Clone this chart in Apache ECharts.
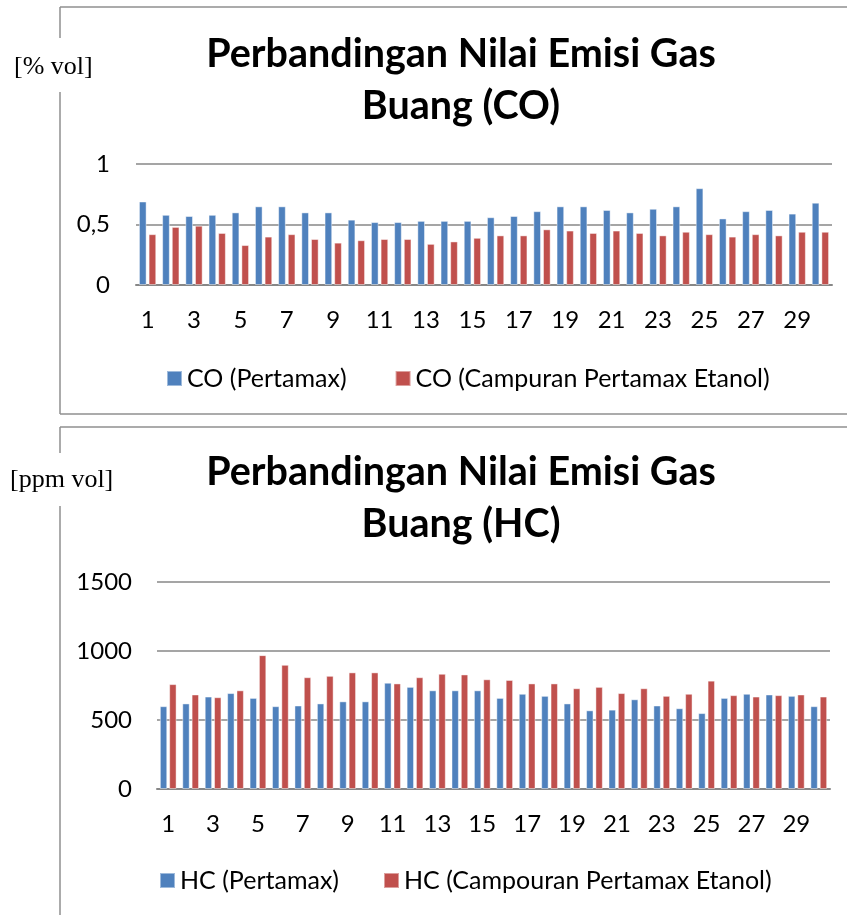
<!DOCTYPE html>
<html>
<head>
<meta charset="utf-8">
<script src="https://cdn.jsdelivr.net/npm/echarts@6/dist/echarts.min.js"></script>
<style>
  html, body { margin: 0; padding: 0; background: #fff; }
  #chart { width: 847px; height: 915px; }
</style>
</head>
<body>
<div id="chart"></div>
<script>
// sample number 1..30
const samples = Array.from({ length: 30 }, (_, i) => String(i + 1));

// CO [% vol]
const coPertamax = [0.69, 0.58, 0.57, 0.58, 0.60, 0.65, 0.65, 0.60, 0.60, 0.54,
  0.52, 0.52, 0.53, 0.53, 0.53, 0.56, 0.57, 0.61, 0.65, 0.65,
  0.62, 0.60, 0.63, 0.65, 0.80, 0.55, 0.61, 0.62, 0.59, 0.68];
const coCampuran = [0.42, 0.48, 0.49, 0.43, 0.33, 0.40, 0.42, 0.38, 0.35, 0.37,
  0.38, 0.38, 0.34, 0.36, 0.39, 0.41, 0.41, 0.46, 0.45, 0.43,
  0.45, 0.43, 0.41, 0.44, 0.42, 0.40, 0.42, 0.41, 0.44, 0.44];

// HC [ppm vol]
const hcPertamax = [600, 620, 670, 695, 660, 600, 605, 620, 635, 635,
  770, 740, 715, 715, 715, 660, 690, 675, 620, 570,
  575, 650, 605, 585, 550, 660, 690, 685, 675, 600];
const hcCampuran = [760, 685, 665, 715, 970, 900, 810, 820, 845, 845,
  765, 810, 835, 830, 795, 790, 765, 765, 730, 740,
  695, 730, 675, 690, 785, 680, 670, 680, 685, 670];

const BLUE = "#4F81BD";
const RED = "#C0504D";
const GRID_GRAY = "#878787";
const FRAME_GRAY = "#8f8f8f";
const FONT = "Lato";

function xAxisFor(gridIndex) {
  return {
    type: "category",
    gridIndex: gridIndex,
    data: samples,
    axisTick: { show: false },
    axisLine: { lineStyle: { color: GRID_GRAY, width: 2 } },
    axisLabel: { interval: 1, margin: 23, fontSize: 24, color: "#000", fontFamily: FONT },
  };
}

function yAxisFor(gridIndex, max, interval, margin, fmt) {
  return {
    type: "value",
    gridIndex: gridIndex,
    min: 0,
    max: max,
    interval: interval,
    axisLine: { show: false },
    axisTick: { show: false },
    splitLine: { lineStyle: { color: GRID_GRAY, width: 1.5 } },
    axisLabel: { margin: margin, fontSize: 24, color: "#000", fontFamily: FONT, formatter: fmt },
  };
}

function barSeries(name, data, color, axisIndex) {
  return {
    name: name,
    type: "bar",
    xAxisIndex: axisIndex,
    yAxisIndex: axisIndex,
    data: data,
    barWidth: "33%",
    barGap: "26%",
    itemStyle: { color: color, borderColor: "rgba(255,255,255,0.45)", borderWidth: 1 },
  };
}

function frame(top, gapTop, gapBottom, bottom) {
  const s = { stroke: FRAME_GRAY, lineWidth: 1.5 };
  const lines = [
    { type: "line", shape: { x1: 60, y1: top, x2: 847, y2: top }, style: s },
    { type: "line", shape: { x1: 60, y1: top, x2: 60, y2: gapTop }, style: s },
    { type: "line", shape: { x1: 60, y1: gapBottom, x2: 60, y2: bottom }, style: s },
  ];
  if (bottom < 915) {
    lines.push({ type: "line", shape: { x1: 60, y1: bottom, x2: 847, y2: bottom }, style: s });
  }
  return lines;
}

function titleLines(text1, text2, y1, y2) {
  const st = { fill: "#000", font: "bold 39.5px " + FONT, textAlign: "center", textVerticalAlign: "middle" };
  return [
    { type: "text", x: 461, y: y1, style: Object.assign({ text: text1 }, st) },
    { type: "text", x: 461, y: y2, style: Object.assign({ text: text2 }, st) },
  ];
}

function unitLabel(text, x, y) {
  return {
    type: "text", x: x, y: y,
    style: { text: text, fill: "#000", font: "26px 'Liberation Serif'", textVerticalAlign: "middle" },
  };
}

const chart = echarts.init(document.getElementById("chart"));
chart.setOption({
  animation: false,
  backgroundColor: "#fff",
  textStyle: { fontFamily: FONT },
  grid: [
    { left: 136, right: 15, top: 164, height: 121 },
    { left: 157, right: 17, top: 582, height: 207 },
  ],
  legend: [
    {
      data: ["CO (Pertamax)", "CO (Campuran Pertamax Etanol)"],
      left: 161, top: 361,
      icon: "rect", itemWidth: 15, itemHeight: 15, itemGap: 48,
      textStyle: { fontSize: 25, color: "#000", fontFamily: FONT },
    },
    {
      data: ["HC (Pertamax)", "HC (Campouran Pertamax Etanol)"],
      left: 154, top: 863,
      icon: "rect", itemWidth: 15, itemHeight: 15, itemGap: 44,
      textStyle: { fontSize: 25, color: "#000", fontFamily: FONT },
    },
  ],
  xAxis: [xAxisFor(0), xAxisFor(1)],
  yAxis: [
    yAxisFor(0, 1, 0.5, 26, (v) => String(v).replace(".", ",")),
    yAxisFor(1, 1500, 500, 25, (v) => String(v)),
  ],
  series: [
    barSeries("CO (Pertamax)", coPertamax, BLUE, 0),
    barSeries("CO (Campuran Pertamax Etanol)", coCampuran, RED, 0),
    barSeries("HC (Pertamax)", hcPertamax, BLUE, 1),
    barSeries("HC (Campouran Pertamax Etanol)", hcCampuran, RED, 1),
  ],
  graphic: [
    ...frame(7, 38, 92, 414),
    ...frame(427, 453, 506, 915),
    unitLabel("[% vol]", 14, 67),
    unitLabel("[ppm vol]", 10, 480),
    ...titleLines("Perbandingan Nilai Emisi Gas", "Buang (CO)", 54, 106),
    ...titleLines("Perbandingan Nilai Emisi Gas", "Buang (HC)", 472, 524),
  ],
});
</script>
</body>
</html>
